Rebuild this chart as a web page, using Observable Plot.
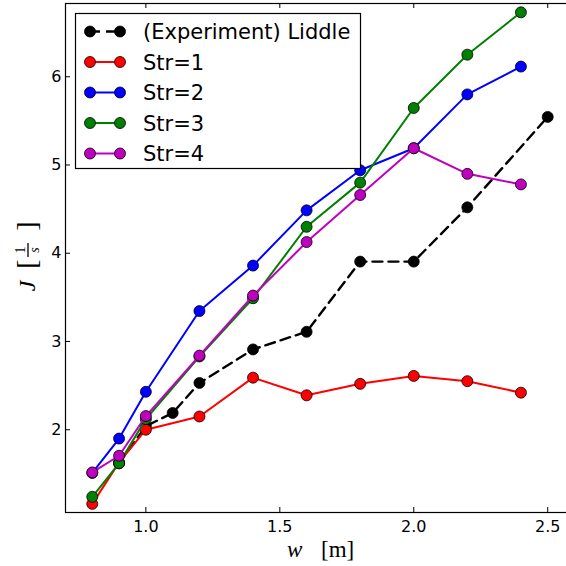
<!DOCTYPE html>
<html>
<head>
<meta charset="utf-8">
<script src="https://cdn.jsdelivr.net/npm/d3@7"></script>
<script src="https://cdn.jsdelivr.net/npm/@observablehq/plot@0.6"></script>
<style>
  html, body { margin: 0; padding: 0; background: white; }
  #chart { width: 566px; height: 566px; overflow: hidden; }
</style>
</head>
<body>
<div id="chart"></div>
<script>
// ---- data ----
const wExp = [0.9, 1.0, 1.1, 1.2, 1.4, 1.6, 1.8, 2.0, 2.2, 2.5];
const jExp = [1.62, 2.04, 2.19, 2.53, 2.91, 3.11, 3.905, 3.905, 4.52, 5.545];
const wSim = [0.8, 0.9, 1.0, 1.2, 1.4, 1.6, 1.8, 2.0, 2.2, 2.4];
const str1 = [1.16, 1.63, 2.0, 2.15, 2.59, 2.39, 2.52, 2.61, 2.55, 2.42];
const str2 = [1.51, 1.90, 2.43, 3.345, 3.86, 4.486, 4.94, 5.19, 5.80, 6.115];
const str3 = [1.24, 1.62, 2.12, 2.83, 3.49, 4.30, 4.80, 5.646, 6.25, 6.73];
const str4 = [1.516, 1.705, 2.155, 2.84, 3.52, 4.127, 4.66, 5.19, 4.90, 4.78];
const seriesNames = ["(Experiment) Liddle", "Str=1", "Str=2", "Str=3", "Str=4"];
const seriesColors = ["#000000", "#ff0000", "#0000ff", "#008000", "#bf00bf"];
const xTicks = [1.0, 1.5, 2.0, 2.5];
const yTicks = [2, 3, 4, 5, 6];

const expData = wExp.map((w, i) => ({w, j: jExp[i]}));
const simSeries = [str1, str2, str3, str4].map(arr => wSim.map((w, i) => ({w, j: arr[i]})));

const W = 566, H = 566;
const mL = 65, mR = -8, mT = 3, mB = 54;
const frameW = W - mL - mR, frameH = H - mT - mB;

const marks = [
  Plot.frame({stroke: "black", strokeWidth: 1.2}),
  // inward ticks
  Plot.ruleX(xTicks, {x: d => d, insetTop: frameH - 5, stroke: "black", strokeWidth: 1}),
  Plot.ruleX(xTicks, {x: d => d, insetBottom: frameH - 5, stroke: "black", strokeWidth: 1}),
  Plot.ruleY(yTicks, {y: d => d, insetRight: frameW - 5, stroke: "black", strokeWidth: 1}),
  Plot.axisX(xTicks, {anchor: "bottom", tickSize: 0, tickPadding: 8, tickFormat: d3.format(".1f"), label: null, fontSize: 16, fill: "black"}),
  Plot.axisY(yTicks, {anchor: "left", tickSize: 0, tickPadding: 4, tickFormat: d3.format("d"), label: null, fontSize: 16, fill: "black"}),
  // experiment
  Plot.line(expData, {x: "w", y: "j", stroke: seriesColors[0], strokeWidth: 2.4, strokeDasharray: "10,6"}),
  Plot.dot(expData, {x: "w", y: "j", r: 5.5, fill: seriesColors[0], stroke: "black", strokeWidth: 0.8})
];
simSeries.forEach((data, k) => {
  marks.push(Plot.line(data, {x: "w", y: "j", stroke: seriesColors[k + 1], strokeWidth: 2}));
  marks.push(Plot.dot(data, {x: "w", y: "j", r: 5.5, fill: seriesColors[k + 1], stroke: "black", strokeWidth: 0.8}));
});

const plot = Plot.plot({
  width: W, height: H,
  marginLeft: mL, marginRight: mR, marginTop: mT, marginBottom: mB,
  x: {domain: [0.7, 2.6]},
  y: {domain: [1.062, 6.83]},
  style: {fontFamily: "DejaVu Sans", fontSize: "16px", background: "white", color: "black"},
  marks
});
document.getElementById("chart").appendChild(plot);

const svg = d3.select(plot);

// Legend
const lg = svg.append("g").attr("font-family", "DejaVu Sans").attr("font-size", 21).attr("text-anchor", "start");
lg.append("rect").attr("x", 75.5).attr("y", 13.5).attr("width", 285).attr("height", 155)
  .attr("fill", "white").attr("stroke", "black").attr("stroke-width", 1.2);
seriesNames.forEach((name, i) => {
  const y = 31.5 + i * 30.5;
  const g = lg.append("g");
  g.append("line").attr("x1", 90).attr("x2", 120).attr("y1", y).attr("y2", y)
    .attr("stroke", seriesColors[i]).attr("stroke-width", i === 0 ? 2.4 : 2)
    .attr("stroke-dasharray", i === 0 ? "10,6" : null);
  [90, 120].forEach(cx => g.append("circle").attr("cx", cx).attr("cy", y).attr("r", 5.5)
    .attr("fill", seriesColors[i]).attr("stroke", "black").attr("stroke-width", 0.8));
  g.append("text").attr("x", 143).attr("y", y + 7.5).attr("fill", "black").attr("text-anchor", "start").text(name);
});

// X label
const xl = svg.append("text").attr("y", 557).attr("font-family", "Liberation Serif").attr("font-size", 23)
  .attr("fill", "black").attr("text-anchor", "start");
xl.append("tspan").attr("x", 287).attr("font-style", "italic").text("w");
xl.append("tspan").attr("x", 321).text("[m]");

// Y label (rotated)
const yl = svg.append("g").attr("transform", "translate(28,250) rotate(-90)")
  .attr("font-family", "Liberation Serif").attr("fill", "black").attr("text-anchor", "middle");
yl.append("text").attr("x", -36).attr("y", 7).attr("font-size", 24).attr("font-style", "italic").text("J");
yl.append("text").attr("x", -14).attr("y", 8).attr("font-size", 28).text("[");
yl.append("line").attr("x1", -7).attr("x2", 7).attr("y1", 0).attr("y2", 0).attr("stroke", "black").attr("stroke-width", 1.3);
yl.append("text").attr("x", 0).attr("y", -3).attr("font-size", 14).text("1");
yl.append("text").attr("x", 0).attr("y", 11).attr("font-size", 14).attr("font-style", "italic").text("s");
yl.append("text").attr("x", 24).attr("y", 8).attr("font-size", 28).text("]");
</script>
</body>
</html>
